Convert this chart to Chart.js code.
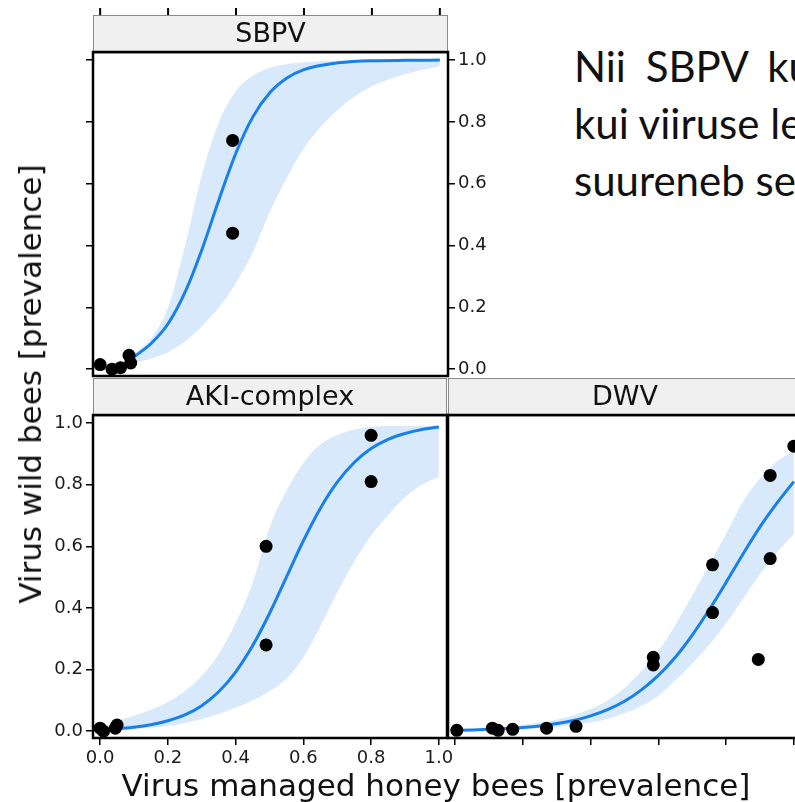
<!DOCTYPE html>
<html>
<head>
<meta charset="utf-8">
<script src="https://cdn.jsdelivr.net/npm/chart.js@4.4.1/dist/chart.umd.min.js"></script>
<style>
html, body { margin: 0; padding: 0; background: #fff; }
body { position: relative; width: 795px; height: 802px; overflow: hidden; }
canvas { position: absolute; }
.ttl { position: absolute; white-space: nowrap; font-family: "DejaVu Sans", sans-serif; color: #111; }
.note { position: absolute; left: 574px; top: 38px; font-family: Lato, sans-serif; font-size: 42px; line-height: 57px; color: #111; white-space: nowrap; }
</style>
</head>
<body>
<canvas id="c_sbpv" width="500" height="390" style="left:0;top:0"></canvas>
<canvas id="c_aki" width="460" height="432" style="left:0;top:370px"></canvas>
<canvas id="c_dwv" width="380" height="432" style="left:440px;top:370px"></canvas>

<div class="ttl" style="left:30px;top:384px;font-size:31px;transform:translate(-50%,-50%) rotate(-90deg)">Virus wild bees [prevalence]</div>
<div class="ttl" style="left:436px;top:785px;font-size:31px;transform:translate(-50%,-50%)">Virus managed honey bees [prevalence]</div>
<div class="note"><div style="word-spacing:9px">Nii SBPV ku</div><div>kui viiruse le</div><div>suureneb se</div></div>

<script>
// axis ticks (same for every panel)
var X_TICKS = [0, 0.2, 0.4, 0.6, 0.8, 1.0];
var Y_TICKS = [0, 0.2, 0.4, 0.6, 0.8, 1.0];

// SBPV
var sbpvX     = [0.10, 0.15, 0.20, 0.25, 0.30, 0.35, 0.40, 0.45, 0.50, 0.55, 0.60, 0.70, 0.80, 0.90, 1.00];
var sbpvFit   = [0.04, 0.083, 0.147, 0.249, 0.388, 0.549, 0.70, 0.817, 0.895, 0.942, 0.969, 0.991, 0.998, 0.999, 1.0];
var sbpvUpper = [0.05, 0.10, 0.20, 0.40, 0.63, 0.80, 0.90, 0.95, 0.975, 0.987, 0.993, 0.998, 1.0, 1.0, 1.0];
var sbpvLower = [0.02, 0.035, 0.055, 0.09, 0.14, 0.20, 0.28, 0.38, 0.51, 0.62, 0.715, 0.84, 0.915, 0.955, 0.98];
var sbpvPtX   = [0.0, 0.035, 0.06, 0.085, 0.09, 0.39, 0.39];
var sbpvPtY   = [0.015, 0.0, 0.005, 0.045, 0.02, 0.74, 0.44];

// AKI-complex
var akiX     = [0.05, 0.10, 0.15, 0.20, 0.25, 0.30, 0.35, 0.40, 0.45, 0.50, 0.55, 0.60, 0.65, 0.70, 0.75, 0.80, 0.85, 0.90, 0.95, 1.00];
var akiFit   = [0.008, 0.013, 0.021, 0.034, 0.053, 0.083, 0.128, 0.192, 0.277, 0.382, 0.50, 0.618, 0.723, 0.808, 0.872, 0.917, 0.947, 0.966, 0.979, 0.987];
var akiUpper = [0.035, 0.05, 0.07, 0.095, 0.13, 0.18, 0.25, 0.35, 0.48, 0.66, 0.78, 0.87, 0.93, 0.96, 0.978, 0.987, 0.99, 0.99, 0.99, 0.99];
var akiLower = [0.004, 0.007, 0.011, 0.017, 0.026, 0.04, 0.056, 0.077, 0.10, 0.13, 0.17, 0.24, 0.34, 0.45, 0.55, 0.635, 0.70, 0.76, 0.80, 0.825];
var akiPtX   = [0.0, 0.01, 0.045, 0.05, 0.49, 0.49, 0.80, 0.80];
var akiPtY   = [0.01, 0.0, 0.01, 0.02, 0.60, 0.28, 0.96, 0.81];

// DWV
var dwvX     = [0.00, 0.05, 0.10, 0.15, 0.20, 0.25, 0.30, 0.35, 0.40, 0.45, 0.50, 0.55, 0.60, 0.65, 0.70, 0.75, 0.80, 0.85, 0.90, 0.95, 1.00];
var dwvFit   = [0.003, 0.004, 0.006, 0.009, 0.012, 0.017, 0.025, 0.035, 0.05, 0.07, 0.097, 0.134, 0.181, 0.24, 0.312, 0.394, 0.483, 0.575, 0.663, 0.74, 0.81];
var dwvUpper = [0.005, 0.007, 0.01, 0.014, 0.02, 0.028, 0.038, 0.052, 0.072, 0.10, 0.14, 0.195, 0.26, 0.345, 0.44, 0.54, 0.64, 0.745, 0.82, 0.875, 0.91];
var dwvLower = [0.001, 0.002, 0.003, 0.005, 0.007, 0.01, 0.014, 0.02, 0.028, 0.04, 0.058, 0.082, 0.115, 0.165, 0.22, 0.28, 0.35, 0.43, 0.51, 0.58, 0.64];
var dwvPtX   = [0.005, 0.11, 0.127, 0.17, 0.27, 0.357, 0.585, 0.585, 0.76, 0.76, 0.895, 0.93, 0.93, 1.0];
var dwvPtY   = [0.003, 0.01, 0.003, 0.006, 0.01, 0.016, 0.24, 0.215, 0.54, 0.385, 0.233, 0.83, 0.56, 0.925];

var LINE = 'rgb(24,128,234)',
    BAND = 'rgb(216,233,252)',
    FONT = '"DejaVu Sans", sans-serif',
    X_MIN = -0.021, X_MAX = 1.024,
    Y_MIN = -0.022, Y_MAX = 1.026;

function pts( xs, ys ){
    return xs.map( function( x, i ){ return { x: x, y: ys[ i ] }; } );
}

function setTicks( list ){
    return function( s ){ s.ticks = list.map( function( v ){ return { value: v }; } ); };
}

function fixWidth( w ){ return function( s ){ s.width = w; }; }
function fixHeight( h ){ return function( s ){ s.height = h; }; }

var tickGrid = { drawOnChartArea: false, drawTicks: true, tickLength: 7, color: '#000', lineWidth: 1.5 };
var tickLabels = { font: { family: FONT, size: 18 }, color: '#1a1a1a', padding: 3, autoSkip: false, maxRotation: 0,
                   callback: function( v ){ return v.toFixed( 1 ); } };

// strip, panel border and the little ticks above the SBPV strip
var panelDeco = {
    id: 'panelDeco',
    beforeDatasetsDraw: function( chart ){
        var a = chart.chartArea, ctx = chart.ctx;
        ctx.save();
        ctx.strokeStyle = '#000';
        ctx.lineWidth = 2.5;
        ctx.strokeRect( a.left, a.top, a.right - a.left, a.bottom - a.top );
        ctx.restore();
    },
    afterDraw: function( chart, args, opts ){
        var a = chart.chartArea, ctx = chart.ctx, h = 37;
        ctx.save();
        ctx.fillStyle = '#f0f0f0';
        ctx.fillRect( a.left, a.top - h, a.right - a.left, h );
        ctx.strokeStyle = '#8a8a8a';
        ctx.lineWidth = 1;
        ctx.strokeRect( a.left + 0.5, a.top - h + 0.5, a.right - a.left - 1, h - 1 );
        ctx.strokeStyle = '#000';
        ctx.lineWidth = 2.5;
        ctx.beginPath();
        ctx.moveTo( a.left, a.top ); ctx.lineTo( a.right, a.top );
        ctx.stroke();
        ctx.fillStyle = '#111';
        ctx.font = '27px ' + FONT;
        ctx.textAlign = 'center';
        ctx.textBaseline = 'middle';
        ctx.fillText( opts.title, ( a.left + a.right ) / 2, a.top - h / 2 + 1 );
        if( opts.topTicks ){
            var xs = chart.scales.x;
            ctx.lineWidth = 2;
            X_TICKS.forEach( function( t ){
                var px = xs.getPixelForValue( t );
                ctx.beginPath();
                ctx.moveTo( px, a.top - h - 7 ); ctx.lineTo( px, a.top - h );
                ctx.stroke();
            } );
        }
        ctx.restore();
    }
};

function panelChart( id, p ){
    return new Chart( document.getElementById( id ).getContext( '2d' ), {
        type: 'scatter',
        data: { datasets: [
            { data: pts( p.x, p.lower ), showLine: true, borderColor: 'rgba(0,0,0,0)', pointRadius: 0, fill: false, cubicInterpolationMode: 'monotone', order: 3 },
            { data: pts( p.x, p.upper ), showLine: true, borderColor: 'rgba(0,0,0,0)', pointRadius: 0, fill: '-1', backgroundColor: BAND, cubicInterpolationMode: 'monotone', order: 2 },
            { data: pts( p.x, p.fit ), showLine: true, borderColor: LINE, borderWidth: 3, pointRadius: 0, cubicInterpolationMode: 'monotone', order: 1 },
            { data: pts( p.ptX, p.ptY ), showLine: false, pointRadius: 6.5, pointBackgroundColor: '#000', pointBorderWidth: 0, clip: false, order: 0 }
        ] },
        options: {
            responsive: false,
            animation: false,
            events: [],
            layout: { padding: p.padding },
            plugins: { legend: { display: false }, tooltip: { enabled: false }, panelDeco: { title: p.title, topTicks: p.topTicks } },
            scales: p.scales
        },
        plugins: [ panelDeco ]
    } );
}

panelChart( 'c_sbpv', {
    title: 'SBPV', topTicks: true,
    x: sbpvX, fit: sbpvFit, upper: sbpvUpper, lower: sbpvLower, ptX: sbpvPtX, ptY: sbpvPtY,
    padding: { left: 85, top: 52, right: 0, bottom: 14 },
    scales: {
        x:  { type: 'linear', min: X_MIN, max: X_MAX, display: false, afterBuildTicks: setTicks( X_TICKS ) },
        y:  { type: 'linear', position: 'left', min: Y_MIN, max: Y_MAX, afterBuildTicks: setTicks( Y_TICKS ),
              grid: tickGrid, border: { display: false }, ticks: { display: false }, afterFit: fixWidth( 8 ) },
        yr: { type: 'linear', position: 'right', min: Y_MIN, max: Y_MAX, afterBuildTicks: setTicks( Y_TICKS ),
              grid: tickGrid, border: { display: false }, ticks: tickLabels, afterFit: fixWidth( 52 ) }
    }
} );

panelChart( 'c_aki', {
    title: 'AKI-complex',
    x: akiX, fit: akiFit, upper: akiUpper, lower: akiLower, ptX: akiPtX, ptY: akiPtY,
    padding: { left: 40, top: 45, right: 13, bottom: 0 },
    scales: {
        x: { type: 'linear', position: 'bottom', min: X_MIN, max: X_MAX, afterBuildTicks: setTicks( X_TICKS ),
             grid: tickGrid, border: { display: false }, ticks: tickLabels, afterFit: fixHeight( 64 ) },
        y: { type: 'linear', position: 'left', min: Y_MIN, max: Y_MAX, afterBuildTicks: setTicks( Y_TICKS ),
             grid: tickGrid, border: { display: false }, ticks: tickLabels, afterFit: fixWidth( 53 ) }
    }
} );

panelChart( 'c_dwv', {
    title: 'DWV',
    x: dwvX, fit: dwvFit, upper: dwvUpper, lower: dwvLower, ptX: dwvPtX, ptY: dwvPtY,
    padding: { left: 8, top: 45, right: 18, bottom: 0 },
    scales: {
        x: { type: 'linear', position: 'bottom', min: X_MIN, max: X_MAX, afterBuildTicks: setTicks( X_TICKS ),
             grid: tickGrid, border: { display: false }, ticks: { display: false }, afterFit: fixHeight( 64 ) },
        y: { type: 'linear', min: Y_MIN, max: Y_MAX, display: false }
    }
} );
</script>
</body>
</html>
